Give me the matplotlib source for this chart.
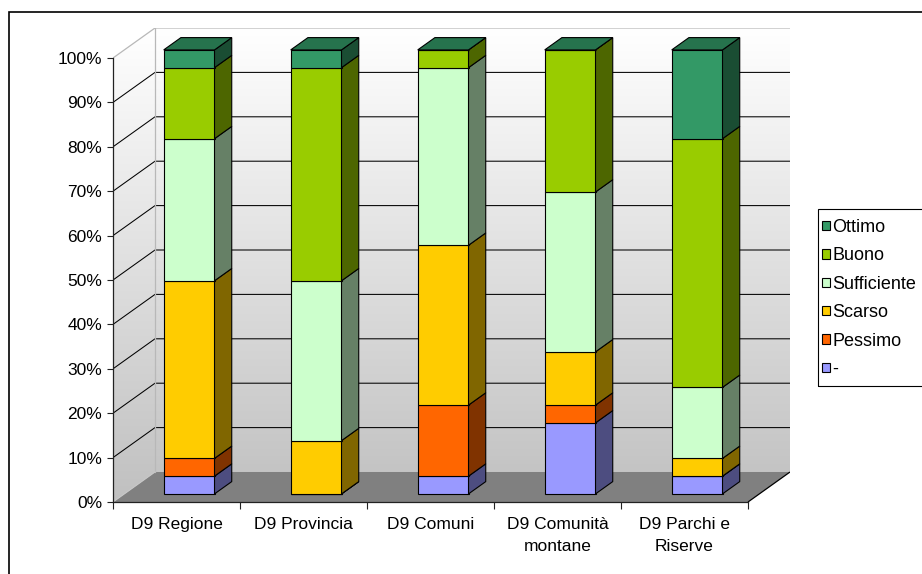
import numpy as np
import matplotlib
matplotlib.use("Agg")
import matplotlib.pyplot as plt
from matplotlib.patches import Polygon, Rectangle, Patch
from matplotlib.colors import LinearSegmentedColormap, to_rgb

plt.rcParams['font.family'] = ['Liberation Sans', 'DejaVu Sans']

# ---- data -------------------------------------------------------------
categories = ["D9 Regione", "D9 Provincia", "D9 Comuni",
              "D9 Comunità\nmontane", "D9 Parchi e\nRiserve"]
series_names = ["-", "Pessimo", "Scarso", "Sufficiente", "Buono", "Ottimo"]
val_none = [4, 0, 4, 16, 4]
val_pessimo = [4, 0, 16, 4, 0]
val_scarso = [40, 12, 36, 12, 4]
val_sufficiente = [32, 36, 40, 36, 16]
val_buono = [16, 48, 4, 32, 56]
val_ottimo = [4, 4, 0, 0, 20]
y_ticks = [0, 10, 20, 30, 40, 50, 60, 70, 80, 90, 100]
y_tick_labels = [f"{t}%" for t in y_ticks]

series_values = [val_none, val_pessimo, val_scarso,
                 val_sufficiente, val_buono, val_ottimo]
series_colors = ["#9999FF", "#FF6600", "#FFCC00", "#CCFFCC", "#99CC00", "#339966"]

# ---- 3D-look projection ------------------------------------------------
DX = 42 / 127          # depth shift along x (category units)
DY = 30 / 4.44         # depth shift along y (percent units)


def proj(x, y, z):
    return (x + z * DX, y + z * DY)


def shade(color, f):
    r, g, b = to_rgb(color)
    return (r * f, g * f, b * f)


W, H = 922, 574
n_cat = len(categories)
fig = plt.figure(figsize=(W / 100, H / 100), dpi=100)
ax = fig.add_axes([113 / W, 72 / H, 677 / W, 474 / H])
ax.set_xlim(0, n_cat + DX)
ax.set_ylim(0, 100 + DY)
ax.patch.set_visible(False)

# walls: gradient fill clipped to left + back wall
cmap = LinearSegmentedColormap.from_list("wall", ["#c0c0c0", "#ffffff"])
grad = np.linspace(0, 1, 256).reshape(-1, 1)
im = ax.imshow(grad, extent=(0, n_cat + DX, 0, 100 + DY), origin="lower",
               aspect="auto", cmap=cmap, zorder=0.5, interpolation="bilinear")
wall_outline = Polygon([(0, 0), proj(0, 0, 1), proj(n_cat, 0, 1),
                        proj(n_cat, 100, 1), proj(0, 100, 1), (0, 100)],
                       closed=True, transform=ax.transData, fill=False, lw=0)
ax.add_patch(wall_outline)
im.set_clip_path(wall_outline)
ax.set_xlim(0, n_cat + DX)
ax.set_ylim(0, 100 + DY)

# floor
floor = Polygon([(0, 0), (n_cat, 0), proj(n_cat, 0, 1), proj(0, 0, 1)],
                closed=True, facecolor="#808080", edgecolor="none", zorder=1)
ax.add_patch(floor)
ax.plot([n_cat, proj(n_cat, 0, 1)[0]], [0, proj(n_cat, 0, 1)[1]],
        color="black", lw=0.9, zorder=1.6, solid_capstyle="butt")

# gridlines on left and back walls
for v in y_ticks[1:-1]:
    p1 = proj(0, v, 1)
    p2 = proj(n_cat, v, 1)
    ax.plot([0, p1[0], p2[0]], [v, p1[1], p2[1]], color="black",
            lw=0.75, zorder=1.5)

# wall borders
edge_c = "#b8b8b8"
t1, t2 = proj(0, 100, 1), proj(n_cat, 100, 1)
ax.plot([0, t1[0], t2[0]], [100, t1[1], t2[1]], color=edge_c, lw=0.9, zorder=1.5)
b1 = proj(0, 0, 1)
ax.plot([b1[0], t1[0]], [b1[1], t1[1]], color=edge_c, lw=0.9, zorder=1.5)
ax.plot([0, b1[0]], [0, b1[1]], color="#c8c8c8", lw=0.8, zorder=1.5)

# ---- stacked 3D columns ----------------------------------------------
half_w = 0.2
z_front, z_back = 0.27, 0.68
edge_kw = dict(edgecolor="black", linewidth=0.8, joinstyle="miter")

for i in range(n_cat):
    total = sum(s[i] for s in series_values)
    cx = i + 0.51
    xl, xr = cx - half_w, cx + half_w
    bottom = 0.0
    z = 3
    for k, (vals, col) in enumerate(zip(series_values, series_colors)):
        h = vals[i] / total * 100
        top = bottom + h
        front = [proj(xl, bottom, z_front), proj(xr, bottom, z_front),
                 proj(xr, top, z_front), proj(xl, top, z_front)]
        side = [proj(xr, bottom, z_front), proj(xr, bottom, z_back),
                proj(xr, top, z_back), proj(xr, top, z_front)]
        ax.add_patch(Polygon(front, closed=True, facecolor=col, zorder=z, **edge_kw))
        ax.add_patch(Polygon(side, closed=True, facecolor=shade(col, 0.5),
                             zorder=z, **edge_kw))
        if k == len(series_values) - 1:
            lid = [proj(xl, top, z_front), proj(xr, top, z_front),
                   proj(xr, top, z_back), proj(xl, top, z_back)]
            ax.add_patch(Polygon(lid, closed=True, facecolor=shade(col, 0.75),
                                 zorder=z, **edge_kw))
        bottom = top
        z += 0.01

# ---- axes ---------------------------------------------------------------
for s in ("top", "right"):
    ax.spines[s].set_visible(False)
ax.spines["left"].set_bounds(0, 100)
ax.spines["bottom"].set_bounds(0, n_cat)
for s in ("left", "bottom"):
    ax.spines[s].set_color("#222222")
    ax.spines[s].set_linewidth(0.9)
    ax.spines[s].set_zorder(2)

ax.set_yticks(y_ticks)
ax.set_yticklabels(y_tick_labels)
ax.tick_params(axis="y", direction="out", length=4.3, width=0.8,
               color="#222222", pad=3.5, labelsize=12.5)
ax.set_xticks(np.arange(n_cat + 1))
ax.set_xticklabels([])
ax.set_xticks(np.arange(n_cat) + 0.5, minor=True)
ax.set_xticklabels(categories, minor=True, fontsize=12.5, linespacing=1.55)
ax.tick_params(axis="x", which="major", direction="out", length=5,
               width=0.8, color="#222222")
ax.tick_params(axis="x", which="minor", length=0, pad=11.0)

# ---- legend -----------------------------------------------------------
handles = [Patch(facecolor=c, edgecolor="black", linewidth=0.8)
           for c in series_colors][::-1]
labels = series_names[::-1]
leg = fig.legend(handles, labels, loc="upper left",
                 bbox_to_anchor=(822 / W, 1 - 219 / H),
                 frameon=False, fontsize=13, handlelength=0.42,
                 handleheight=0.42, handletextpad=0.15, labelspacing=0.63,
                 borderpad=0, borderaxespad=0)

# legend box
fig.add_artist(Rectangle((818 / W, 1 - 386 / H), 0.5, (386 - 209) / H,
                         transform=fig.transFigure, fill=False,
                         edgecolor="black", linewidth=0.8))

# chart area border
fig.add_artist(Rectangle((9 / W, -0.1), 1.2, 1.1 - 12 / H,
                         transform=fig.transFigure, fill=False,
                         edgecolor="black", linewidth=1.2))

fig.savefig("out.png", dpi=100)
